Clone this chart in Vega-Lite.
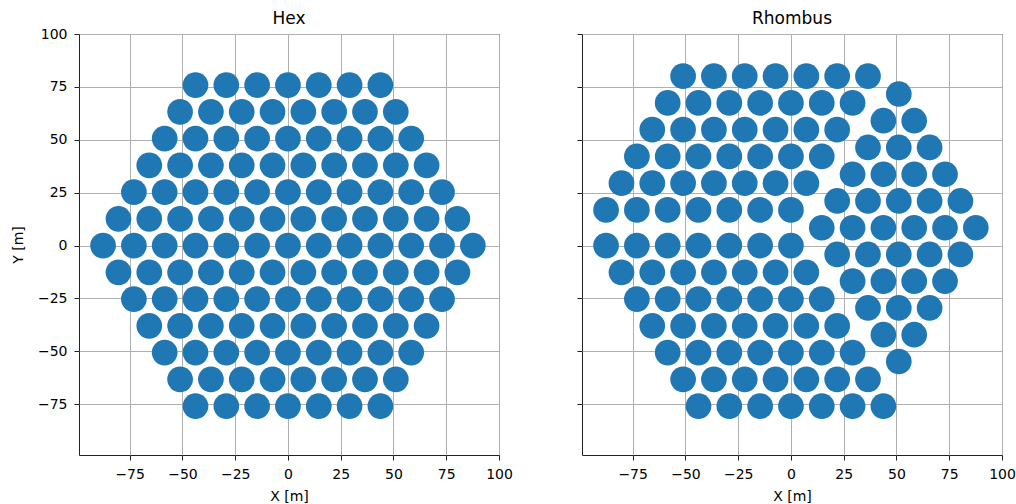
{
  "$schema": "https://vega.github.io/schema/vega-lite/v6.json",
  "background": "white",
  "padding": {"left": 10, "top": 9, "right": 5, "bottom": 2},
  "bounds": "flush",
  "spacing": 83,
  "config": {
    "font": "DejaVu Sans",
    "view": {"stroke": "#222222", "strokeWidth": 1},
    "axis": {
      "domain": false,
      "grid": true,
      "gridColor": "#b0b0b0",
      "gridWidth": 1,
      "tickColor": "#222222",
      "tickSize": 5,
      "tickWidth": 1,
      "labelFont": "DejaVu Sans",
      "labelFontSize": 14,
      "labelColor": "#000000",
      "labelPadding": 7,
      "labelFlush": false,
      "labelOverlap": false,
      "titleFont": "DejaVu Sans",
      "titleFontSize": 14,
      "titleFontWeight": "normal",
      "titleColor": "#000000",
      "zindex": 1
    },
    "axisX": {"titlePadding": 8},
    "axisY": {"titlePadding": 12},
    "title": {"font": "DejaVu Sans", "fontSize": 17, "fontWeight": "normal", "color": "#000000", "offset": 5.5}
  },
  "datasets": {
    "hex": [
      {"x": -43.8, "y": 75.86}, {"x": -29.2, "y": 75.86}, {"x": -14.6, "y": 75.86}, {"x": 0, "y": 75.86}, {"x": 14.6, "y": 75.86}, {"x": 29.2, "y": 75.86}, {"x": 43.8, "y": 75.86},
      {"x": -51.1, "y": 63.22}, {"x": -36.5, "y": 63.22}, {"x": -21.9, "y": 63.22}, {"x": -7.3, "y": 63.22}, {"x": 7.3, "y": 63.22}, {"x": 21.9, "y": 63.22}, {"x": 36.5, "y": 63.22}, {"x": 51.1, "y": 63.22},
      {"x": -58.4, "y": 50.58}, {"x": -43.8, "y": 50.58}, {"x": -29.2, "y": 50.58}, {"x": -14.6, "y": 50.58}, {"x": 0, "y": 50.58}, {"x": 14.6, "y": 50.58}, {"x": 29.2, "y": 50.58}, {"x": 43.8, "y": 50.58}, {"x": 58.4, "y": 50.58},
      {"x": -65.7, "y": 37.93}, {"x": -51.1, "y": 37.93}, {"x": -36.5, "y": 37.93}, {"x": -21.9, "y": 37.93}, {"x": -7.3, "y": 37.93}, {"x": 7.3, "y": 37.93}, {"x": 21.9, "y": 37.93}, {"x": 36.5, "y": 37.93}, {"x": 51.1, "y": 37.93}, {"x": 65.7, "y": 37.93},
      {"x": -73, "y": 25.29}, {"x": -58.4, "y": 25.29}, {"x": -43.8, "y": 25.29}, {"x": -29.2, "y": 25.29}, {"x": -14.6, "y": 25.29}, {"x": 0, "y": 25.29}, {"x": 14.6, "y": 25.29}, {"x": 29.2, "y": 25.29}, {"x": 43.8, "y": 25.29}, {"x": 58.4, "y": 25.29}, {"x": 73, "y": 25.29},
      {"x": -80.3, "y": 12.64}, {"x": -65.7, "y": 12.64}, {"x": -51.1, "y": 12.64}, {"x": -36.5, "y": 12.64}, {"x": -21.9, "y": 12.64}, {"x": -7.3, "y": 12.64}, {"x": 7.3, "y": 12.64}, {"x": 21.9, "y": 12.64}, {"x": 36.5, "y": 12.64}, {"x": 51.1, "y": 12.64}, {"x": 65.7, "y": 12.64}, {"x": 80.3, "y": 12.64},
      {"x": -87.6, "y": 0}, {"x": -73, "y": 0}, {"x": -58.4, "y": 0}, {"x": -43.8, "y": 0}, {"x": -29.2, "y": 0}, {"x": -14.6, "y": 0}, {"x": 0, "y": 0}, {"x": 14.6, "y": 0}, {"x": 29.2, "y": 0}, {"x": 43.8, "y": 0}, {"x": 58.4, "y": 0}, {"x": 73, "y": 0}, {"x": 87.6, "y": 0},
      {"x": -80.3, "y": -12.64}, {"x": -65.7, "y": -12.64}, {"x": -51.1, "y": -12.64}, {"x": -36.5, "y": -12.64}, {"x": -21.9, "y": -12.64}, {"x": -7.3, "y": -12.64}, {"x": 7.3, "y": -12.64}, {"x": 21.9, "y": -12.64}, {"x": 36.5, "y": -12.64}, {"x": 51.1, "y": -12.64}, {"x": 65.7, "y": -12.64}, {"x": 80.3, "y": -12.64},
      {"x": -73, "y": -25.29}, {"x": -58.4, "y": -25.29}, {"x": -43.8, "y": -25.29}, {"x": -29.2, "y": -25.29}, {"x": -14.6, "y": -25.29}, {"x": 0, "y": -25.29}, {"x": 14.6, "y": -25.29}, {"x": 29.2, "y": -25.29}, {"x": 43.8, "y": -25.29}, {"x": 58.4, "y": -25.29}, {"x": 73, "y": -25.29},
      {"x": -65.7, "y": -37.93}, {"x": -51.1, "y": -37.93}, {"x": -36.5, "y": -37.93}, {"x": -21.9, "y": -37.93}, {"x": -7.3, "y": -37.93}, {"x": 7.3, "y": -37.93}, {"x": 21.9, "y": -37.93}, {"x": 36.5, "y": -37.93}, {"x": 51.1, "y": -37.93}, {"x": 65.7, "y": -37.93},
      {"x": -58.4, "y": -50.58}, {"x": -43.8, "y": -50.58}, {"x": -29.2, "y": -50.58}, {"x": -14.6, "y": -50.58}, {"x": 0, "y": -50.58}, {"x": 14.6, "y": -50.58}, {"x": 29.2, "y": -50.58}, {"x": 43.8, "y": -50.58}, {"x": 58.4, "y": -50.58},
      {"x": -51.1, "y": -63.22}, {"x": -36.5, "y": -63.22}, {"x": -21.9, "y": -63.22}, {"x": -7.3, "y": -63.22}, {"x": 7.3, "y": -63.22}, {"x": 21.9, "y": -63.22}, {"x": 36.5, "y": -63.22}, {"x": 51.1, "y": -63.22},
      {"x": -43.8, "y": -75.86}, {"x": -29.2, "y": -75.86}, {"x": -14.6, "y": -75.86}, {"x": 0, "y": -75.86}, {"x": 14.6, "y": -75.86}, {"x": 29.2, "y": -75.86}, {"x": 43.8, "y": -75.86}
    ],
    "rhombus": [
      {"x": -87.6, "y": 0}, {"x": -73, "y": 0}, {"x": -58.4, "y": 0}, {"x": -43.8, "y": 0}, {"x": -29.2, "y": 0}, {"x": -14.6, "y": 0}, {"x": 0, "y": 0},
      {"x": -80.3, "y": -12.64}, {"x": -65.7, "y": -12.64}, {"x": -51.1, "y": -12.64}, {"x": -36.5, "y": -12.64}, {"x": -21.9, "y": -12.64}, {"x": -7.3, "y": -12.64}, {"x": 7.3, "y": -12.64},
      {"x": -73, "y": -25.29}, {"x": -58.4, "y": -25.29}, {"x": -43.8, "y": -25.29}, {"x": -29.2, "y": -25.29}, {"x": -14.6, "y": -25.29}, {"x": 0, "y": -25.29}, {"x": 14.6, "y": -25.29},
      {"x": -65.7, "y": -37.93}, {"x": -51.1, "y": -37.93}, {"x": -36.5, "y": -37.93}, {"x": -21.9, "y": -37.93}, {"x": -7.3, "y": -37.93}, {"x": 7.3, "y": -37.93}, {"x": 21.9, "y": -37.93},
      {"x": -58.4, "y": -50.58}, {"x": -43.8, "y": -50.58}, {"x": -29.2, "y": -50.58}, {"x": -14.6, "y": -50.58}, {"x": 0, "y": -50.58}, {"x": 14.6, "y": -50.58}, {"x": 29.2, "y": -50.58},
      {"x": -51.1, "y": -63.22}, {"x": -36.5, "y": -63.22}, {"x": -21.9, "y": -63.22}, {"x": -7.3, "y": -63.22}, {"x": 7.3, "y": -63.22}, {"x": 21.9, "y": -63.22}, {"x": 36.5, "y": -63.22},
      {"x": -43.8, "y": -75.86}, {"x": -29.2, "y": -75.86}, {"x": -14.6, "y": -75.86}, {"x": 0, "y": -75.86}, {"x": 14.6, "y": -75.86}, {"x": 29.2, "y": -75.86}, {"x": 43.8, "y": -75.86},
      {"x": -87.6, "y": 16.86}, {"x": -73, "y": 16.86}, {"x": -58.4, "y": 16.86}, {"x": -43.8, "y": 16.86}, {"x": -29.2, "y": 16.86}, {"x": -14.6, "y": 16.86}, {"x": 0, "y": 16.86},
      {"x": -80.3, "y": 29.5}, {"x": -65.7, "y": 29.5}, {"x": -51.1, "y": 29.5}, {"x": -36.5, "y": 29.5}, {"x": -21.9, "y": 29.5}, {"x": -7.3, "y": 29.5}, {"x": 7.3, "y": 29.5},
      {"x": -73, "y": 42.14}, {"x": -58.4, "y": 42.14}, {"x": -43.8, "y": 42.14}, {"x": -29.2, "y": 42.14}, {"x": -14.6, "y": 42.14}, {"x": 0, "y": 42.14}, {"x": 14.6, "y": 42.14},
      {"x": -65.7, "y": 54.79}, {"x": -51.1, "y": 54.79}, {"x": -36.5, "y": 54.79}, {"x": -21.9, "y": 54.79}, {"x": -7.3, "y": 54.79}, {"x": 7.3, "y": 54.79}, {"x": 21.9, "y": 54.79},
      {"x": -58.4, "y": 67.43}, {"x": -43.8, "y": 67.43}, {"x": -29.2, "y": 67.43}, {"x": -14.6, "y": 67.43}, {"x": 0, "y": 67.43}, {"x": 14.6, "y": 67.43}, {"x": 29.2, "y": 67.43},
      {"x": -51.1, "y": 80.08}, {"x": -36.5, "y": 80.08}, {"x": -21.9, "y": 80.08}, {"x": -7.3, "y": 80.08}, {"x": 7.3, "y": 80.08}, {"x": 21.9, "y": 80.08}, {"x": 36.5, "y": 80.08},
      {"x": 51.1, "y": 71.65},
      {"x": 43.8, "y": 59.01}, {"x": 58.4, "y": 59.01},
      {"x": 36.5, "y": 46.37}, {"x": 51.1, "y": 46.37}, {"x": 65.7, "y": 46.37},
      {"x": 29.2, "y": 33.72}, {"x": 43.8, "y": 33.72}, {"x": 58.4, "y": 33.72}, {"x": 73, "y": 33.72},
      {"x": 21.9, "y": 21.08}, {"x": 36.5, "y": 21.08}, {"x": 51.1, "y": 21.08}, {"x": 65.7, "y": 21.08}, {"x": 80.3, "y": 21.08},
      {"x": 14.6, "y": 8.43}, {"x": 29.2, "y": 8.43}, {"x": 43.8, "y": 8.43}, {"x": 58.4, "y": 8.43}, {"x": 73, "y": 8.43}, {"x": 87.6, "y": 8.43},
      {"x": 21.9, "y": -4.21}, {"x": 36.5, "y": -4.21}, {"x": 51.1, "y": -4.21}, {"x": 65.7, "y": -4.21}, {"x": 80.3, "y": -4.21},
      {"x": 29.2, "y": -16.85}, {"x": 43.8, "y": -16.85}, {"x": 58.4, "y": -16.85}, {"x": 73, "y": -16.85},
      {"x": 36.5, "y": -29.5}, {"x": 51.1, "y": -29.5}, {"x": 65.7, "y": -29.5},
      {"x": 43.8, "y": -42.14}, {"x": 58.4, "y": -42.14},
      {"x": 51.1, "y": -54.79}
    ]
  },
  "hconcat": [
    {
      "width": 420,
      "height": 421,
      "title": {"text": "Hex", "dy": 6.5},
      "data": {"name": "hex"},
      "mark": {"type": "circle", "size": 660, "opacity": 1, "color": "#1f77b4"},
      "encoding": {
        "x": {"field": "x", "type": "quantitative", "scale": {"domain": [-99, 100], "nice": false, "zero": false}, "axis": {"title": "X [m]", "values": [-75, -50, -25, 0, 25, 50, 75, 100]}},
        "y": {"field": "y", "type": "quantitative", "scale": {"domain": [-99, 100], "nice": false, "zero": false}, "axis": {"title": "Y [m]", "values": [-75, -50, -25, 0, 25, 50, 75, 100]}}
      }
    },
    {
      "width": 420,
      "height": 421,
      "title": "Rhombus",
      "data": {"name": "rhombus"},
      "mark": {"type": "circle", "size": 660, "opacity": 1, "color": "#1f77b4"},
      "encoding": {
        "x": {"field": "x", "type": "quantitative", "scale": {"domain": [-99, 100], "nice": false, "zero": false}, "axis": {"title": "X [m]", "values": [-75, -50, -25, 0, 25, 50, 75, 100]}},
        "y": {"field": "y", "type": "quantitative", "scale": {"domain": [-99, 100], "nice": false, "zero": false}, "axis": {"title": null, "labels": false, "values": [-75, -50, -25, 0, 25, 50, 75, 100]}}
      }
    }
  ]
}
